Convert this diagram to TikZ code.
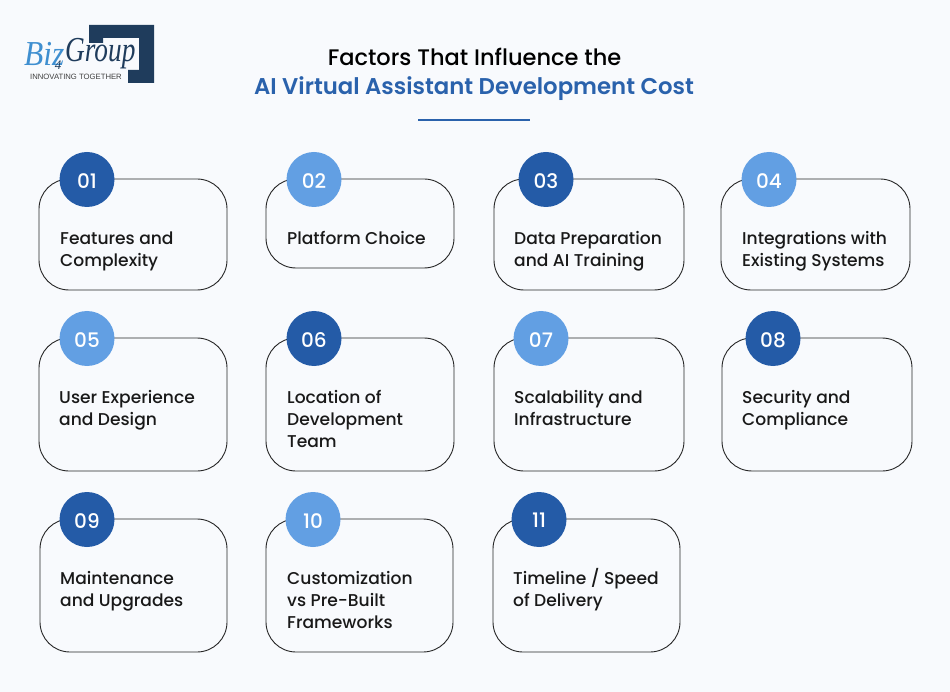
\documentclass[tikz,border=0pt]{standalone}
\usepackage{fontspec}
\setmainfont{Poppins Medium}[BoldFont={Poppins SemiBold}]
\newfontfamily\logoserif{Liberation Serif}
\newfontfamily\logosans{Liberation Sans}
\newcommand{\badgenum}[1]{\raisebox{-1.2pt}[\height][0pt]{#1}}
\definecolor{pagebg}{HTML}{F8FAFD}
\definecolor{darkblue}{HTML}{245BA7}
\definecolor{lightblue}{HTML}{629FE3}
\definecolor{titleblue}{HTML}{2A62AC}
\definecolor{logonavy}{HTML}{1F3C5C}
\definecolor{logoblue}{HTML}{3F8FD0}
\tikzset{
  cardbox/.style={draw=black!85,line width=0.9pt,rounded corners=30pt,inner sep=0pt},
  badgedark/.style={circle,fill=darkblue,minimum size=55pt,inner sep=0pt,text=white,font=\fontsize{20}{20}\selectfont},
  badgelight/.style={badgedark,fill=lightblue},
  cardlabel/.style={anchor=west,align=left,inner sep=0pt,text=black!90,font=\fontsize{17.1}{22}\selectfont},
  logoword/.style={inner sep=0pt,anchor=west,font=\logoserif\itshape\fontsize{35}{35}\selectfont},
}
\begin{document}
\begin{tikzpicture}[x=1pt,y=-1pt]
  \fill[pagebg] (0,0) rectangle (950,692);
  \useasboundingbox (0,0) rectangle (950,692);
  % logo
  \fill[logonavy] (89,25) -- (154,25) -- (154,83) -- (128,83) -- (128,70) -- (139,70)
    -- (139,38) -- (103,38) -- (103,43) -- (89,43) -- cycle;
  \node[logoword,xscale=0.9,text=logoblue] (logobiz) at (24,54) {Biz};
  \node[logoword,xscale=0.78,text=logonavy] (logogroup) at (65,54) {Group};
  \node[inner sep=0pt,text=logonavy,font=\logoserif\itshape\fontsize{13}{13}\selectfont] (logofour) at (58,65) {4};
  \node[inner sep=0pt,anchor=west,text=black!75,font=\logosans\fontsize{7.7}{8}\selectfont] (logotag) at (30,76.5) {INNOVATING TOGETHER};
  % title
  \node[inner sep=0pt,font=\fontsize{22.5}{24}\selectfont] (title) at (474.5,57) {Factors That Influence the};
  \node[inner sep=0pt,text=titleblue,font=\fontsize{22.8}{24}\bfseries\selectfont] (subtitle) at (474,89) {AI Virtual Assistant Development Cost};
  \coordinate (ruleL) at (418,120);
  \coordinate (ruleR) at (530,120);
  \draw[titleblue,line width=1.5pt] (ruleL) -- (ruleR);
  % first row
  \draw[cardbox] (39,179) rectangle (227,290);
  \draw[cardbox] (266,179) rectangle (454,268);
  \draw[cardbox] (494,179) rectangle (684,290);
  \draw[cardbox] (721,179) rectangle (910,290);
  \node[badgedark] (b01) at (87,179.5) {\badgenum{01}};
  \node[badgelight] (b02) at (314,179.5) {\badgenum{02}};
  \node[badgedark] (b03) at (546,179.5) {\badgenum{03}};
  \node[badgelight] (b04) at (769,179.5) {\badgenum{04}};
  \node[cardlabel] (t01) at (60,251) {Features and\\Complexity};
  \node[cardlabel] (t02) at (287,238) {Platform Choice};
  \node[cardlabel] (t03) at (514,251) {Data Preparation\\and AI Training};
  \node[cardlabel] (t04) at (742,251) {Integrations with\\Existing Systems};
  % second row
  \draw[cardbox] (39,338) rectangle (227,471);
  \draw[cardbox] (266,338) rectangle (454,471);
  \draw[cardbox] (494,338) rectangle (684,471);
  \draw[cardbox] (722,338) rectangle (912,471);
  \node[badgelight] (b05) at (87,338.5) {\badgenum{05}};
  \node[badgedark] (b06) at (314,338.5) {\badgenum{06}};
  \node[badgelight] (b07) at (541,338.5) {\badgenum{07}};
  \node[badgedark] (b08) at (773,338.5) {\badgenum{08}};
  \node[cardlabel] (t05) at (59,410) {User Experience\\and Design};
  \node[cardlabel] (t06) at (287,419) {Location of\\Development\\Team};
  \node[cardlabel] (t07) at (514,408) {Scalability and\\Infrastructure};
  \node[cardlabel] (t08) at (742,410) {Security and\\Compliance};
  % third row
  \draw[cardbox] (40,519) rectangle (227,652);
  \draw[cardbox] (266,519) rectangle (453,652);
  \draw[cardbox] (493,519) rectangle (680,652);
  \node[badgedark] (b09) at (87,519.5) {\badgenum{09}};
  \node[badgelight] (b10) at (313,519.5) {\badgenum{10}};
  \node[badgedark] (b11) at (539,519.5) {\badgenum{11}};
  \node[cardlabel] (t09) at (60,591) {Maintenance\\and Upgrades};
  \node[cardlabel] (t10) at (287,600) {Customization\\vs Pre-Built\\Frameworks};
  \node[cardlabel] (t11) at (513,590) {Timeline / Speed\\of Delivery};
\end{tikzpicture}
\end{document}
